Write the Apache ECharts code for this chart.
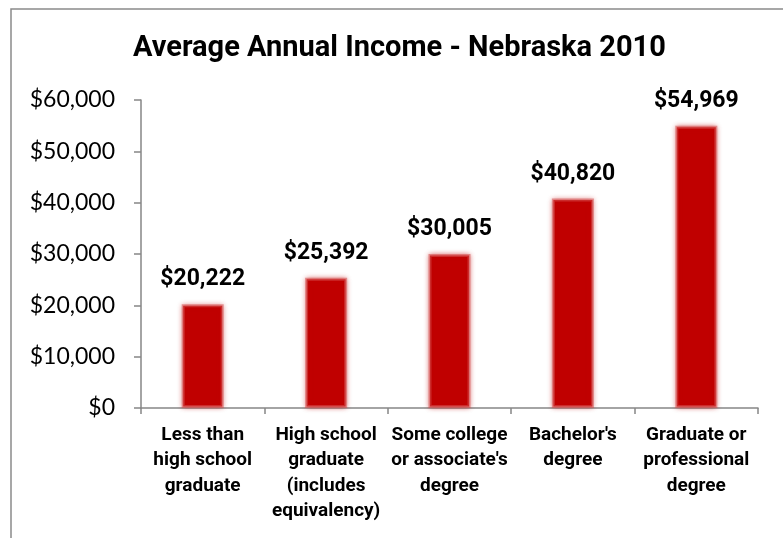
<!DOCTYPE html>
<html>
<head>
<meta charset="utf-8">
<script src="https://cdn.jsdelivr.net/npm/echarts@6/dist/echarts.min.js"></script>
<style>
html,body{margin:0;padding:0;background:#fff;}
#chart{width:783px;height:538px;}
</style>
</head>
<body>
<div id="chart"></div>
<script>
const titleText = 'Average Annual Income - Nebraska 2010';
const categories = [
  'Less than\nhigh school\ngraduate',
  'High school\ngraduate\n(includes\nequivalency)',
  'Some college\nor associate\'s\ndegree',
  'Bachelor\'s\ndegree',
  'Graduate or\nprofessional\ndegree'
];
const incomes = [20222, 25392, 30005, 40820, 54969];
const yTicks = [0, 10000, 20000, 30000, 40000, 50000, 60000];

const BOLD = 'Roboto, "Noto Sans", "Liberation Sans", sans-serif';
const REG = 'Lato, "Noto Sans", "Liberation Sans", sans-serif';
const chart = echarts.init(document.getElementById('chart'), null, {renderer: 'canvas'});
const fmt = v => '$' + Number(v).toLocaleString('en-US');

chart.setOption({
  animation: false,
  backgroundColor: '#ffffff',
  title: {
    text: titleText,
    left: 133,
    top: 34,
    padding: 0,
    textStyle: {fontFamily: BOLD, fontWeight: 'bold', fontSize: 29, color: '#000'}
  },
  graphic: [{
    type: 'rect',
    shape: {x: 11, y: 9, width: 800, height: 560},
    style: {fill: 'none', stroke: '#8a8a8a', lineWidth: 1.5},
    silent: true, z: 0
  }],
  grid: {left: 141, right: 25, top: 100, bottom: 130, containLabel: false},
  xAxis: {
    type: 'category',
    data: categories,
    axisLine: {lineStyle: {color: '#868686', width: 1.5}},
    axisTick: {show: true, length: 6, lineStyle: {color: '#868686', width: 1.5}},
    axisLabel: {
      interval: 0, margin: 14,
      fontFamily: BOLD, fontWeight: 'bold', fontSize: 19, lineHeight: 25.5, color: '#000', align: 'center'
    }
  },
  yAxis: {
    type: 'value',
    min: yTicks[0], max: yTicks[yTicks.length - 1], interval: yTicks[1] - yTicks[0],
    axisLine: {show: true, lineStyle: {color: '#868686', width: 1.5}},
    axisTick: {show: true, length: 7, lineStyle: {color: '#868686', width: 1.5}},
    splitLine: {show: false},
    axisLabel: {
      margin: 26, formatter: fmt,
      fontFamily: REG, fontSize: 23, color: '#000'
    }
  },
  series: [{
    type: 'bar',
    data: incomes,
    barWidth: 42,
    itemStyle: {
      color: '#C00000',
      borderColor: 'rgba(214,80,80,0.55)',
      borderWidth: 3,
      shadowBlur: 5,
      shadowColor: 'rgba(192,0,0,0.55)'
    },
    label: {
      show: true, position: 'top', distance: 13,
      formatter: p => fmt(p.value),
      fontFamily: BOLD, fontWeight: 'bold', fontSize: 23, color: '#000'
    }
  }]
});
</script>
</body>
</html>
